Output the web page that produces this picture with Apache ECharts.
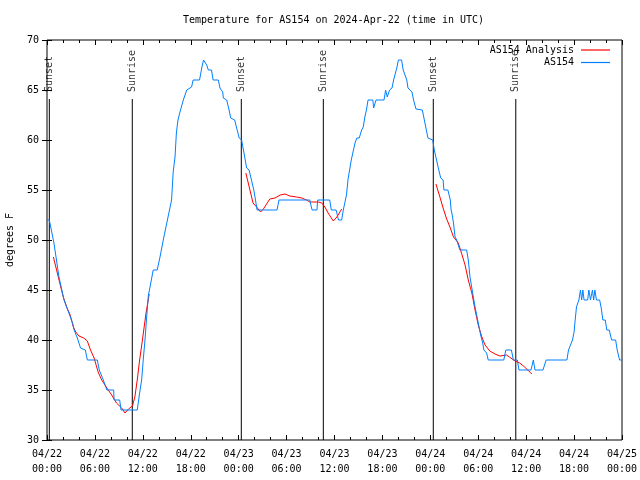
<!DOCTYPE html>
<html>
<head>
<meta charset="utf-8">
<script src="https://cdn.jsdelivr.net/npm/echarts@6/dist/echarts.min.js"></script>
<style>html,body{margin:0;padding:0;background:#fff}#c{width:640px;height:480px}</style>
</head>
<body>
<div id="c"></div>
<script>
// Hours since 2024-04-22 00:00 UTC
const xTickHours = [0, 6, 12, 18, 24, 30, 36, 42, 48, 54, 60, 66, 72];
const yTicks = [30, 35, 40, 45, 50, 55, 60, 65, 70];

const eventNames = ['Sunset', 'Sunrise', 'Sunset', 'Sunrise', 'Sunset', 'Sunrise'];
const eventHours = [0.29, 10.68, 24.33, 34.6, 48.37, 58.7];
const eventLineTop = 64.1;

const stationObs = [
[0.0,52],[0.29,52],[0.87,49.7],[1.5,46.3],[2.13,44],[2.6,43],[3.2,41.7],[3.4,41],[3.8,40.2],[4.2,39.2],[4.8,39],[5.05,38],[6.3,38],[6.55,37],[7.05,36],[7.5,35],[8.35,35],[8.4,34],[9.1,34],[9.27,33],[11.3,33],[11.6,34.7],[11.85,36],[12.05,38],[12.27,40],[12.48,42.3],[12.7,44.5],[12.9,45.3],[13.3,47],[13.8,47],[14.15,48.3],[14.56,50],[15.0,51.7],[15.6,54],[15.8,56.8],[16.03,58.3],[16.2,60.7],[16.4,62],[16.65,62.8],[17.07,64],[17.5,65],[18.1,65.3],[18.3,66],[19.1,66],[19.4,67.3],[19.6,68],[19.8,68],[20.0,67.5],[20.2,67],[20.6,67],[20.8,66],[21.45,66],[21.66,65.2],[22.0,64.8],[22.08,64.2],[22.5,64],[22.8,63],[23.0,62.2],[23.5,62],[23.75,61.2],[24.07,60.2],[24.37,60],[24.6,59],[25.0,57.2],[25.3,57],[25.6,56],[25.9,55],[26.25,53.3],[26.3,53],[28.8,53],[29.05,54],[32.9,54],[33.1,53.3],[33.2,53],[33.8,53],[33.9,54],[35.4,54],[35.6,53],[36.2,53],[36.5,52],[36.9,52],[37.1,53],[37.3,53],[37.5,54.5],[37.7,56.1],[38.1,58],[38.57,59.7],[38.8,60.2],[39.1,60.2],[39.4,61],[39.6,61.3],[39.8,62.3],[40.0,63],[40.2,64],[40.8,64],[40.9,63.2],[41.2,64],[42.2,64],[42.4,65],[42.6,64.3],[42.9,65],[43.2,65.2],[43.4,66],[43.8,67.2],[44.0,68],[44.4,68],[44.6,67],[45.05,66],[45.2,65.2],[45.7,64.8],[45.9,64],[46.2,63.1],[47.0,63],[47.2,62.2],[47.7,60.2],[48.3,60],[48.5,59],[49.0,57.2],[49.3,56.2],[49.6,56],[49.7,55],[50.2,55],[50.5,54],[50.6,53],[50.7,52.7],[50.9,51.7],[51.1,50.3],[51.3,50],[51.5,50],[51.7,49],[52.55,49],[52.75,48],[52.97,46.3],[53.3,44.7],[53.6,43.3],[54.0,41.7],[54.3,40.5],[54.56,39.7],[54.7,39],[55.05,38.7],[55.25,38],[57.2,38],[57.45,39],[58.15,39],[58.4,38],[58.9,38],[59.1,37],[60.6,37],[60.9,38],[61.1,37],[62.1,37],[62.5,38],[65.1,38],[65.3,39],[65.5,39],[65.8,40],[66.0,40.8],[66.1,41.7],[66.3,43.3],[66.6,44],[66.8,45],[66.95,44],[67.1,45],[67.25,44],[67.7,44],[67.85,45],[68.05,44],[68.3,45],[68.45,44],[68.6,45],[68.8,44],[69.2,44],[69.4,43.2],[69.6,42],[69.9,42],[70.1,41],[70.4,41],[70.7,40],[71.2,40],[71.4,39],[71.7,38],[72,38]
];

const analysisNight1 = [[0.8,48.3],[1.2,47],[1.6,45.7],[2.04,44.3],[2.46,43.3],[2.9,42.5],[3.3,41.3],[3.6,40.8],[4.0,40.4],[4.6,40.2],[5.05,39.9],[5.45,39],[5.9,38.2],[6.4,36.8],[6.85,36],[7.5,35.2],[8.1,34.5],[8.7,33.7],[9.35,33.2],[9.77,32.7],[10.2,33.1],[10.7,33.4],[11.0,34.3],[11.3,36],[11.6,38],[11.95,40],[12.4,42.7],[12.8,44.6]];
const analysisNight2 = [[24.9,56.7],[25.2,55.7],[25.5,54.7],[25.8,53.7],[26.25,53.3],[26.75,52.8],[27.1,53.1],[27.5,53.6],[27.9,54.1],[28.55,54.2],[29.2,54.5],[29.8,54.6],[30.4,54.4],[31.25,54.3],[31.9,54.2],[32.5,54],[32.9,53.8],[34.0,53.8],[34.4,53.7],[34.8,53.3],[35.2,52.7],[35.85,51.9],[36.3,52.3],[36.9,53.1]];
const analysisNight3 = [[48.7,55.6],[49.2,54.3],[49.6,53.2],[50.0,52.2],[50.5,51.2],[50.9,50.3],[51.5,49.7],[51.9,48.7],[52.35,47.5],[52.75,46],[53.2,44.7],[53.6,43],[54.0,41.5],[54.45,40.3],[54.85,39.5],[55.45,38.9],[56.1,38.6],[56.7,38.4],[57.55,38.5],[57.9,38.3],[58.6,37.9],[59.2,37.7],[59.8,37.3],[60.2,37],[60.7,36.6]];

const FONT = '"DejaVu Sans Mono", "Liberation Mono", monospace';

function joinSegments(segs) {
  const out = [];
  segs.forEach((s, i) => {
    if (i > 0) out.push([s[0][0], '-']);
    s.forEach(p => out.push(p));
  });
  return out;
}
const analysisData = joinSegments([analysisNight1, analysisNight2, analysisNight3]);
const eventLineData = joinSegments(eventHours.map(h => [[h, 30], [h, eventLineTop]]));
const eventLabelData = eventHours.map((h, i) => ({ name: eventNames[i], value: [h, eventLineTop] }));

function xLabel(v) {
  const day = 22 + Math.floor(v / 24);
  const hr = v % 24;
  return '04/' + day + '\n' + (hr < 10 ? '0' : '') + hr + ':00';
}

const xBase = {
  type: 'value', min: xTickHours[0], max: xTickHours[xTickHours.length - 1], interval: 6,
  splitLine: { show: false },
  axisLine: { show: false },
  axisTick: { show: true, inside: true, length: 5, lineStyle: { color: '#000' } },
  minorTick: { show: true, splitNumber: 3, length: 3, lineStyle: { color: '#000' } }
};
const yBase = {
  type: 'value', min: yTicks[0], max: yTicks[yTicks.length - 1], interval: 5,
  splitLine: { show: false },
  axisLine: { show: false },
  axisTick: { show: true, inside: true, length: 5, lineStyle: { color: '#000' } }
};

const legendText = { fontFamily: FONT, fontSize: 10, color: '#000', padding: [0, 2, 0, 0] };

const chart = echarts.init(document.getElementById('c'), null, { renderer: 'canvas' });
chart.setOption({
  animation: false,
  backgroundColor: '#fff',
  title: {
    text: 'Temperature for AS154 on 2024-Apr-22 (time in UTC)',
    left: 178, top: 10,
    textStyle: { fontFamily: FONT, fontSize: 10, fontWeight: 'normal', color: '#000' }
  },
  legend: [
    { data: ['AS154 Analysis'], orient: 'vertical', right: 30, top: 45, align: 'right', padding: 0,
      icon: 'rect', itemWidth: 29, itemHeight: 1.2, textStyle: legendText },
    { data: ['AS154'], orient: 'vertical', right: 30, top: 57.5, align: 'right', padding: 0,
      icon: 'rect', itemWidth: 29, itemHeight: 1.2, textStyle: legendText }
  ],
  grid: { left: 47, top: 40, width: 575, height: 400, show: true, borderColor: '#000', borderWidth: 1,
    backgroundColor: 'transparent', containLabel: false, outerBoundsMode: 'none' },
  xAxis: [
    Object.assign({}, xBase, {
      position: 'bottom',
      axisLabel: { show: true, margin: 7, formatter: xLabel, fontFamily: FONT, fontSize: 10, color: '#000', lineHeight: 15 }
    }),
    Object.assign({}, xBase, { position: 'top', axisLabel: { show: false } })
  ],
  yAxis: [
    Object.assign({}, yBase, {
      position: 'left',
      name: 'degrees F', nameLocation: 'middle', nameGap: 32,
      nameTextStyle: { fontFamily: FONT, fontSize: 10, color: '#000' },
      axisLabel: { show: true, margin: 8, fontFamily: FONT, fontSize: 10, color: '#000' }
    }),
    Object.assign({}, yBase, { position: 'right', axisLabel: { show: false } })
  ],
  series: [
    {
      name: 'events', type: 'line', data: eventLineData, symbol: 'none', connectNulls: false,
      lineStyle: { color: '#000', width: 1 }, itemStyle: { color: '#000' }, silent: true, z: 1
    },
    {
      name: 'eventLabels', type: 'scatter', data: eventLabelData, symbolSize: 0, silent: true,
      label: {
        show: true, position: 'top', distance: 7, rotate: 90, align: 'left', verticalAlign: 'middle',
        formatter: p => p.name, fontFamily: FONT, fontSize: 10, color: '#000'
      }
    },
    {
      name: 'AS154 Analysis', type: 'line', data: analysisData, symbol: 'none', connectNulls: false,
      lineStyle: { color: '#ff0000', width: 1 }, itemStyle: { color: '#ff0000' }, z: 2
    },
    {
      name: 'AS154', type: 'line', data: stationObs, symbol: 'none',
      lineStyle: { color: '#0080ff', width: 1 }, itemStyle: { color: '#0080ff' }, z: 3
    }
  ]
});
</script>
</body>
</html>
